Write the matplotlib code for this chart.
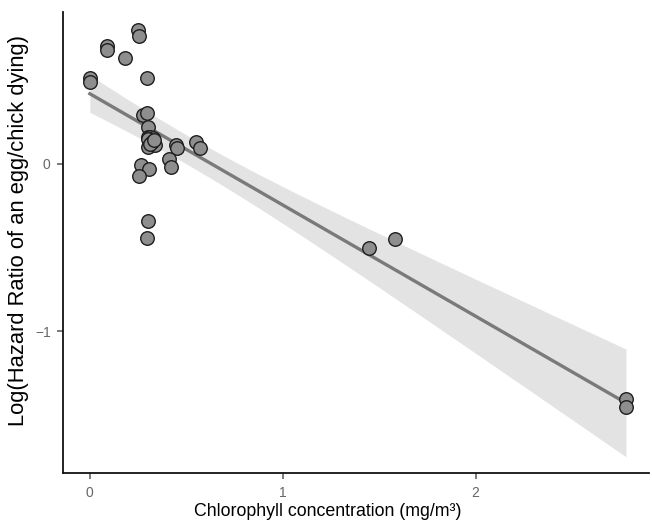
import matplotlib
matplotlib.use('Agg')
import matplotlib.pyplot as plt
import numpy as np

# chlorophyll (mg/m3) and log hazard ratio
chl = [0.0, 0.0, 0.09, 0.09, 0.18, 0.25, 0.255, 0.295,
       0.275, 0.295, 0.30, 0.30, 0.31, 0.33, 0.30, 0.30, 0.34,
       0.32, 0.31, 0.335,
       0.445, 0.45, 0.55, 0.57, 0.41, 0.42, 0.265, 0.305, 0.255,
       0.30, 0.295, 1.445, 1.58, 2.78, 2.78]
log_hr = [0.51, 0.49, 0.70, 0.68, 0.63, 0.80, 0.76, 0.51,
          0.29, 0.30, 0.22, 0.16, 0.16, 0.155, 0.15, 0.10, 0.11,
          0.13, 0.12, 0.14,
          0.11, 0.095, 0.13, 0.095, 0.03, -0.02, -0.005, -0.03, -0.07,
          -0.34, -0.44, -0.505, -0.45, -1.405, -1.45]

x = np.array(chl)
y = np.array(log_hr)

# linear fit with 95% confidence band
n = len(x)
slope, icpt = np.polyfit(x, y, 1)
resid = y - (icpt + slope * x)
s = np.sqrt(np.sum(resid ** 2) / (n - 2))
tcrit = 2.035
xs = np.linspace(x.min(), x.max(), 200)
ys = icpt + slope * xs
se = s * np.sqrt(1 / n + (xs - x.mean()) ** 2 / np.sum((x - x.mean()) ** 2))

fig = plt.figure(figsize=(6.52, 5.25), dpi=100)
ax = fig.add_axes([0.097, 0.099, 0.898, 0.878])

ax.fill_between(xs, ys - tcrit * se, ys + tcrit * se, color='#e3e3e3', lw=0, zorder=1)
ax.plot(xs, ys, color='#7a7a7a', lw=2.4, zorder=2)
ax.scatter(x, y, s=95, facecolor='#8e8e8e', edgecolor='#1e1e1e', linewidths=1.0, zorder=3)

ax.set_xlim(-0.138, 2.898)
ax.set_ylim(-1.845, 0.905)
ax.set_xticks([0, 1, 2])
ax.set_yticks([-1, 0])
ax.set_yticklabels(['\u22121', '0'])

for sp in ['top', 'right']:
    ax.spines[sp].set_visible(False)
for sp in ['left', 'bottom']:
    ax.spines[sp].set_linewidth(1.3)
    ax.spines[sp].set_color('#111111')

ax.tick_params(axis='both', length=4, width=1.1, color='#555555',
               labelcolor='#666666', labelsize=10)
ax.tick_params(axis='x', pad=5)
ax.tick_params(axis='y', pad=5)

ax.set_xlabel('Chlorophyll concentration (mg/m\u00b3)', fontsize=12.8,
              family='Liberation Sans')
ax.xaxis.set_label_coords(0.452, -0.064)
ax.set_ylabel('Log(Hazard Ratio of an egg/chick dying)', fontsize=15.8,
              family='Liberation Sans')
ax.yaxis.set_label_coords(-0.058, 0.527)
for lab in ax.get_xticklabels() + ax.get_yticklabels():
    lab.set_family('Liberation Sans')

fig.savefig('out.png', dpi=100)
